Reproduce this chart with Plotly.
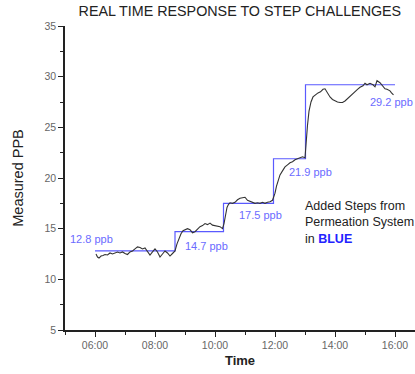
import plotly.graph_objects as go

DAY = "2000-01-01 "

# Measured response (black trace)
meas_times = ["06:02","06:05","06:08","06:12","06:16","06:20","06:25","06:30","06:35","06:40",
              "06:45","06:50","06:55","07:00","07:05","07:10","07:15","07:20","07:25","07:30",
              "07:35","07:40","07:45","07:50","07:55","08:00","08:05","08:10","08:15","08:20",
              "08:25","08:30","08:35","08:40","08:44","08:48","08:52","08:56","09:00","09:05",
              "09:10","09:15","09:20","09:25","09:30","09:35","09:40","09:45","09:50","09:55",
              "10:00","10:05","10:10","10:15","10:18","10:21","10:24","10:27","10:30","10:35",
              "10:40","10:45","10:50","10:55","11:00","11:05","11:10","11:15","11:20","11:25",
              "11:30","11:35","11:40","11:45","11:50","11:55","12:00","12:03","12:06","12:10",
              "12:15","12:20","12:25","12:30","12:35","12:40","12:45","12:50","12:55","13:00",
              "13:02","13:05","13:08","13:12","13:16","13:20","13:26","13:31","13:36","13:40",
              "13:44","13:47","13:50","13:55","14:00","14:05","14:10","14:15","14:20","14:25",
              "14:30","14:35","14:40","14:45","14:50","14:56","15:00","15:04","15:10","15:16",
              "15:20","15:24","15:30","15:33","15:36","15:40","15:44","15:50","15:53","15:57"]
meas_ppb = [12.5,12.2,12.1,12.3,12.35,12.45,12.4,12.6,12.5,12.6,
            12.7,12.6,12.7,12.55,12.45,12.7,12.8,13.0,13.2,13.15,
            13.0,13.1,12.8,12.4,12.7,13.0,12.7,12.2,12.5,12.8,
            12.6,12.3,12.55,12.8,13.5,14.1,14.5,14.8,14.9,15.0,
            14.9,14.6,14.7,15.0,15.2,15.3,15.5,15.4,15.55,15.35,
            15.3,15.25,15.2,15.0,15.5,16.3,17.1,17.4,17.55,17.5,
            17.6,17.85,18.0,18.05,18.1,17.8,17.7,17.6,17.5,17.55,
            17.5,17.6,17.5,17.6,17.65,17.8,18.5,19.2,19.8,20.3,
            20.7,21.1,21.3,21.5,21.6,21.8,21.9,22.0,22.1,22.0,
            23.5,25.2,26.6,27.5,28.0,28.2,28.4,28.5,28.75,28.8,
            28.5,28.2,28.0,27.75,27.6,27.5,27.45,27.45,27.6,27.85,
            28.1,28.35,28.6,28.75,28.95,29.1,29.35,29.2,29.35,29.2,
            29.0,29.6,29.4,29.2,29.0,28.8,28.75,28.6,28.4,28.2]

# Permeation system steps (blue trace)
step_times = ["06:00","08:40","10:17","11:57","13:01","16:00"]
step_ppb = [12.8, 14.7, 17.5, 21.9, 29.2, 29.2]

# Step labels
label_values = [12.8, 14.7, 17.5, 21.9, 29.2]
label_times = ["05:06","08:56","10:44","12:24","15:06"]
label_ppb = [13.95, 13.26, 16.33, 20.57, 27.5]

x_ticks = ["06:00","08:00","10:00","12:00","14:00","16:00"]

FONT = "Liberation Sans, Arial, sans-serif"
BLUE_LINE = "#5a5aff"
BLUE_TEXT = "#6b6bff"

fig = go.Figure()
fig.add_trace(go.Scatter(
    x=[DAY + t for t in step_times], y=step_ppb, mode="lines",
    line=dict(color=BLUE_LINE, width=1.2, shape="hv"), hoverinfo="skip"))
fig.add_trace(go.Scatter(
    x=[DAY + t for t in meas_times], y=meas_ppb, mode="lines",
    line=dict(color="#333333", width=1.1), hoverinfo="skip"))

for v, t, y in zip(label_values, label_times, label_ppb):
    fig.add_annotation(x=DAY + t, y=y, text=f"{v} ppb", showarrow=False,
                       xanchor="left", yanchor="middle",
                       font=dict(family=FONT, size=11, color=BLUE_TEXT))

fig.add_annotation(xref="paper", yref="paper", x=0.68, y=0.355,
                   xanchor="left", yanchor="middle", align="left", showarrow=False,
                   text="Added Steps from<br>Permeation System<br>in <b><span style='color:#2222ff'>BLUE</span></b>",
                   font=dict(family=FONT, size=12.5, color="#222222"))

fig.update_layout(
    width=415, height=374,
    margin=dict(l=65, r=0, t=26, b=44),
    paper_bgcolor="white", plot_bgcolor="white",
    showlegend=False,
    title=dict(text="REAL TIME RESPONSE TO STEP CHALLENGES", x=0.578, xanchor="center",
               y=1 - 11 / 374, yanchor="middle", yref="container",
               font=dict(family=FONT, size=14.3, color="#222222")),
    xaxis=dict(
        range=[DAY + "05:00", DAY + "16:40"],
        tickvals=[DAY + t for t in x_ticks], ticktext=x_ticks,
        ticks="outside", ticklen=5, tickwidth=1, tickcolor="#222",
        minor=dict(dtick=3600000, ticks="outside", ticklen=3, tickcolor="#222", showgrid=False),
        showline=True, linecolor="#222", linewidth=1.5,
        showgrid=False, zeroline=False, automargin=False,
        tickfont=dict(family=FONT, size=10.5, color="#666666"),
        title=dict(text="<b>Time</b>", standoff=6, font=dict(family=FONT, size=13, color="#222222")),
    ),
    yaxis=dict(
        range=[5, 35], dtick=5, tick0=5,
        ticks="outside", ticklen=5, tickwidth=1, tickcolor="#222",
        minor=dict(dtick=2.5, ticks="outside", ticklen=3, tickcolor="#222", showgrid=False),
        showline=True, linecolor="#222", linewidth=1.5,
        showgrid=False, zeroline=False, automargin=False,
        tickfont=dict(family=FONT, size=10.5, color="#666666"),
        title=dict(text="Measured PPB", standoff=17, font=dict(family=FONT, size=14.5, color="#222222")),
    ),
)

fig.write_html("out.html", config={"displayModeBar": False},
               post_script="document.body.style.margin='0';document.body.style.overflow='hidden';")
